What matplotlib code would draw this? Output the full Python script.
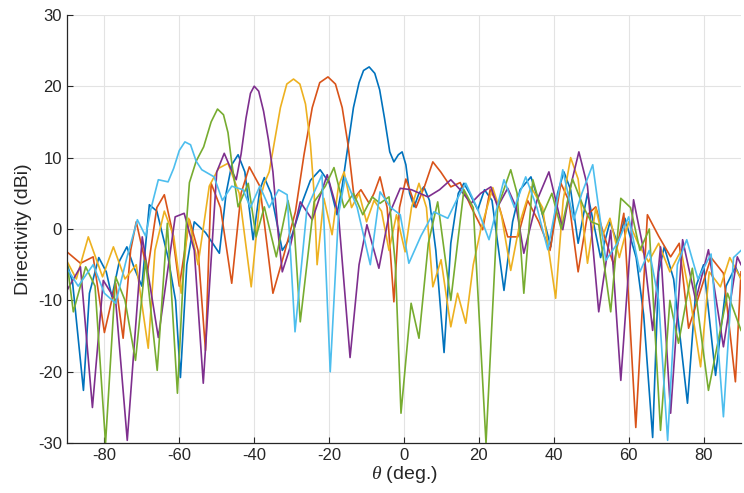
import matplotlib
matplotlib.use("Agg")
import matplotlib.pyplot as plt

plt.rcParams['font.family'] = ['Liberation Sans', 'DejaVu Sans']
plt.rcParams['mathtext.fontset'] = 'custom'
plt.rcParams['mathtext.it'] = 'Liberation Serif:italic'
plt.rcParams['axes.unicode_minus'] = False

# beam patterns, (angle deg, directivity dBi) at peaks / nulls / shoulders
theta_blue = [-90, -88.5, -85.6, -84, -81.5, -79.5, -78, -76, -74, -72, -70, -68, -66, -63, -61, -59.7,
              -58, -56, -53, -49.3, -47.5, -46, -44.3, -42.5, -40.3, -38.5, -37.3, -35.5, -32.5, -30,
              -27, -25, -22.4, -20, -17.9, -16.5, -15, -13.5, -12, -10.8, -9.3, -7.8, -6.5, -5.2,
              -3.8, -2.7, -1.5, -0.5, 0.5, 1.5, 2.7, 4, 5.3, 6.8, 8.5, 10.7, 12.5, 14.5, 16, 17.5,
              19.7, 21.5, 23.5, 26.7, 29, 31, 33.9, 36.5, 39.2, 41, 42.7, 44.5, 46.5, 49, 52.5, 55,
              57, 59, 62, 64, 66.4, 68, 69.5, 72, 75.7, 78, 80, 83.2, 86, 88.5, 90]
dbi_blue = [-4.8, -7.5, -22.6, -9, -4, -6, -9.5, -4.5, -2.5, -5.5, -8, 3.4, 2.5, -4, -10, -20.8,
            -5, 1, -0.5, -3.4, 5, 9, 10.4, 8, -1.5, 5.5, 7.2, 5, -3, -1,
            4, 6.8, 8.3, 6.5, 2, 6, 11.5, 17, 20.5, 22.2, 22.7, 21.8, 19.5, 15.5,
            10.8, 9.4, 10.4, 10.8, 9, 5, 3.1, 5, 5.9, 4, -3, -17.3, -2, 5, 6.4, 5,
            2.7, 5.5, 4, -8.6, 1, 5.5, 7.3, 3, -2.5, 5, 8, 5.5, -2, 5, -4, 1,
            -2, 1.5, -4, -12, -29.2, -6, -2.5, -7, -24.4, -8, -5, -20.5, -8, -5.3, -7]

theta_orange = [-90, -86.4, -83, -80, -77, -75, -73, -71.5, -68.5, -66, -64, -62, -60, -57.3, -55,
                -53, -51.5, -49, -46, -43.5, -41.3, -38.5, -35, -32, -29, -26.7, -24.5, -22.5,
                -20.3, -18.3, -16.5, -15, -14, -13.3, -11.5, -9.3, -8, -6.4, -4.5, -2.7,
                -1.2, 0.5, 3.2, 5.5, 7.7, 9.8, 12.5, 15, 18, 21, 23, 25.5, 27.7, 30.4, 33, 36, 39,
                41.9, 44, 46.5, 49, 51.2, 53.5, 56, 58.7, 61.9, 65, 68, 71.2, 73.5, 76, 79.2, 82,
                85.3, 88.5, 90]
dbi_orange = [-3.2, -4.8, -3.9, -14.5, -7.6, -15.3, -3, 1, -6, 3, 4.8, 0, -8, 1.3, -3,
              -17, 6.4, 3, -7.6, 5, 8.7, 6, -9, -3.5, 2.4, 10.4, 17, 20.5,
              21.3, 20.3, 17, 12, 7.5, 4.3, 5.5, 3.6, 5, 7.3, 3, -10.2,
              3, 7, 3, 6, 9.4, 8, 5.9, 6.5, 3, -0.1, 5.5, 3, -1.1, -1.1, 4, 1, -3,
              6.4, 4, -6, 2, 3.1, -1, -5, 2.2, -27.8, 2, -1, -3.9, -2, -13.9, -8.6, -4,
              -6.2, -21.4, -6]

theta_yellow = [-90, -87.5, -84.3, -80.5, -77.6, -74.5, -71.5, -68.3, -66.5, -64, -61.5, -59.5,
                -57.5, -55, -52, -49.5, -47, -44, -40.8, -38.5, -37.3, -36, -34.5, -33, -31.3,
                -29.5, -27.8, -26.3, -25, -24, -23.2, -21.4, -19.2, -17.5, -16, -14, -12, -10, -8,
                -6, -4, -2, 0.3, 2, 4, 6, 7.7, 9.9, 12.5, 14.3, 16.5, 18.5, 20.5, 23.7, 26, 28.5,
                31, 33.9, 37, 40.5, 42.5, 44.5, 46.5, 49, 51.2, 53, 55, 57.5, 60, 62.5, 65.3, 68,
                71, 74, 76.5, 79.2, 81.5, 84.5, 87, 90]
dbi_yellow = [-4.5, -7, -1.1, -6.7, -2.5, -7, -5, -16.7, -3, 2.5, -1, -9,
              1.5, -5, 6, 8.5, 9.2, 5, -8.1, 4, 6.4, 8, 12.5, 17, 20.3,
              21, 20.3, 17.5, 12, 5, -5, 4.3, -0.8, 6, 8, 3, 5, 1, 4,
              2.5, -3, 2, -3.2, 3, 6.4, 3, -8.1, -4.3, -13.7, -9, -13.2, -5, -0.1, 5.8, 2, -5.8,
              1, 5.9, 3, -9.7, 4, 10, 7, -4.8, 2.9, -1, 1.5, -4, 1, -2, -4.6, -2,
              -6, -3, -10, -19.3, -6, -8.1, -4, -7]

theta_purple = [-90, -86.4, -83.2, -80.3, -77, -73.9, -69.9, -65.6, -61.1, -58.7, -56, -53.6, -50,
                -48, -46.3, -44.8, -43.5, -42.2, -41, -40, -38.8, -37.5, -36.2, -35, -33.6, -32.5,
                -30.5, -27.7, -24.5, -20.5, -17.5, -14.4, -12, -9.9, -6.7, -4, -1, 2, 6.4, 9.5,
                12.5, 15, 17.9, 20.5, 23.2, 25, 27.7, 30, 32, 35.5, 38.7, 42.4, 44.5, 46.7, 49, 52,
                55.2, 57.9, 61.3, 64, 66.4, 68.5, 71.2, 74.4, 77.9, 81.3, 85.3, 89, 90]
dbi_purple = [-8.6, -5.3, -25, -7.2, -10, -29.6, -1.1, -15.2, 1.7, 2.2, -3, -21.6, 8,
              10.6, 8.5, 6.9, 10.5, 15.5, 19, 20, 19.3, 16.5, 12.5, 8, -0.6, -6,
              -2.7, 3.8, 1.3, 7.6, 2, -18, -5, 0.6, -5.5, 2, 5.7, 5.5, 4.5, 5.5,
              6.9, 5.5, 3.6, 5, 5.9, 3.1, 5.7, 3, -3.4, 4, 8, -0.1, 6, 10.8, 6, -11.6,
              -0.2, -21.2, 4.1, -3, -14.2, -2.5, -25.8, -1.5, -10, -2.9, -16.5, -3.9, -5]

theta_green = [-90, -88.3, -85, -82.5, -79.7, -77, -74.5, -71.7, -69, -65.9, -63.2, -60.5,
               -58.5, -57.3, -55.5, -53.5, -51.5, -49.8, -48.2, -47, -46.1, -44.3, -41.6, -39.5,
               -37.3, -34.1, -31, -29.3, -27.7, -24, -21, -18.7, -16, -13.5, -11, -8.5, -6.4, -4,
               -2.3, -0.8, 1.9, 4, 6.5, 9, 12.5, 16, 18.5, 21.9, 25, 28.5, 30.2, 32, 34.4, 37, 39.5,
               42, 45, 48, 50, 52, 55.2, 57.9, 60.5, 63, 65.5, 68.5, 71, 73.3, 77, 81.3, 86.4, 90]
dbi_green = [-4.6, -11.6, -5.3, -8, -30, -6.7, -10, -18.4, -4.4, -19.8, 0.8, -23,
             -2, 6.5, 9.5, 11.5, 15, 16.8, 16, 13.5, 9.7, 3.1, 6.4, -1.1,
             3.1, -3.9, 4, 0, -13, 3.8, 6, 8.6, 3, 5, 2, 4.5, 3.6, 4.5,
             -5, -25.8, -10.4, -15.3, -2, 3.8, -10, 5.5, 3, -30, 3, 8.3, 5, -9, 6.9, 2, 5,
             0, 7, 3, 1, 0.6, -11.6, 4.3, 3, -3, 0, -28.2, -10, -16, -5.5, -22.6, -9, -14.2]

theta_cyan = [-90, -87, -83, -80, -77, -74, -71.2, -69, -67.5, -65.6, -63, -61.5, -60, -58.5,
              -57, -55.5, -54, -50.7, -48.5, -46, -43, -41, -38.5, -36, -33.5, -31.2, -29.1, -25.9,
              -21.9, -19.7, -17.5, -15.7, -12.5, -9, -6.4, -3.5, -1, 1.3, 4.5, 8, 11.7, 14, 16.5,
              19.5, 22.7, 26.7, 29.5, 32.5, 35.5, 38.4, 42.4, 45.3, 47.5, 50.4, 53.9, 57, 60, 63,
              65.5, 68, 70.4, 73, 75.5, 78.5, 82, 85.3, 88, 90]
dbi_cyan = [-5.5, -8, -5, -9, -10.4, -4, 1.3, -1, 3, 6.9, 6.6, 8.5, 11, 12.2,
            11.8, 9.5, 8.3, 7.3, 4, 6, 5.5, 3, 6, 3, 5.5, 4.8, -14.4, 2.9,
            7.6, -20, 2, 7.2, 3, -5, 5.2, 3, 2, -4.8, -1, 2.4, 1.5, 4, 6.4,
            3, -1.5, 6.9, 3, 7.3, 3, -2.9, 8.3, 1.3, 5, 9, -4.4, -2, 1.7, -6,
            -3, -10, -29.6, -5, -1.5, -7, -3.5, -26.3, -4, -3]

# MATLAB default colour order
series = [
    (theta_blue, dbi_blue, (0, 0.447, 0.741)),
    (theta_orange, dbi_orange, (0.850, 0.325, 0.098)),
    (theta_yellow, dbi_yellow, (0.929, 0.694, 0.125)),
    (theta_purple, dbi_purple, (0.494, 0.184, 0.556)),
    (theta_green, dbi_green, (0.466, 0.674, 0.188)),
    (theta_cyan, dbi_cyan, (0.301, 0.745, 0.933)),
]

fig = plt.figure(figsize=(7.44, 4.93), dpi=100)
ax = fig.add_axes([0.090, 0.101, 0.906, 0.869])

for th, d, c in series:
    ax.plot(th, d, color=c, linewidth=1.2)

ax.set_xlim(-90, 90)
ax.set_ylim(-30, 30)
ax.set_xticks(range(-80, 81, 20))
ax.set_yticks(range(-30, 31, 10))
ax.grid(True, color="#e3e3e3", linewidth=0.8)
ax.set_axisbelow(True)
for side in ["top", "right"]:
    ax.spines[side].set_visible(False)
for side in ["left", "bottom"]:
    ax.spines[side].set_color("#262626")
    ax.spines[side].set_linewidth(0.9)
ax.tick_params(direction="in", length=4, colors="#262626", labelsize=12)
ax.set_xlabel(r"$\theta$ (deg.)", fontsize=14, color="#262626", labelpad=1)
ax.set_ylabel("Directivity (dBi)", fontsize=14, color="#262626", labelpad=4)

fig.savefig("out.png", dpi=100)
